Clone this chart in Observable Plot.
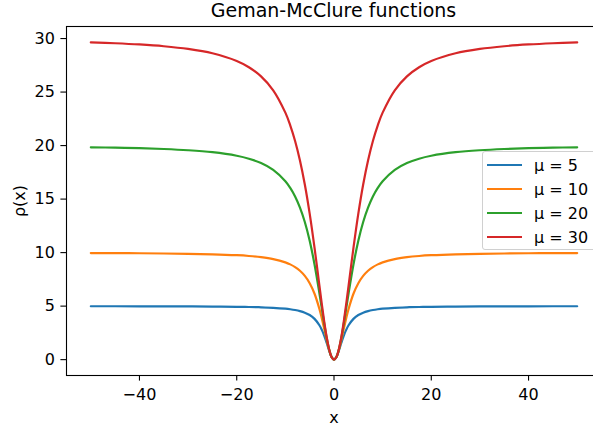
<!DOCTYPE html>
<html><head><meta charset="utf-8">
<script src="https://cdn.jsdelivr.net/npm/d3@7"></script>
<script src="https://cdn.jsdelivr.net/npm/@observablehq/plot@0.6"></script>
<style>
html,body{margin:0;padding:0;overflow:hidden;background:#fff;width:593px;height:429px;}
#wrap{position:relative;width:593px;height:429px;overflow:hidden;font-family:"DejaVu Sans",sans-serif;color:#000;}
#chart{position:absolute;left:0;top:0;width:611px;}
#chart svg{max-width:none !important;}
.lbl{position:absolute;white-space:nowrap;font-size:16px;line-height:16px;}
#title{position:absolute;left:333.5px;top:0.5px;transform:translateX(-50%);font-size:19px;line-height:19px;white-space:nowrap;}
#legend{position:absolute;left:482px;top:151px;width:130px;height:96px;padding-top:1px;box-sizing:content-box;border:1px solid #d0d0d0;border-radius:3px;background:rgba(255,255,255,0.8);}
.row{height:24px;display:flex;align-items:center;font-size:16px;}
.sw{width:35px;height:2.4px;margin-left:4px;margin-right:12px;}
</style>
</head><body>
<div id="wrap">
  <div id="chart"></div>
  <div id="title">Geman-McClure functions</div>
  <div class="lbl" id="xlab" style="left:334px;top:410px;transform:translateX(-50%);">x</div>
  <div class="lbl" id="ylab" style="left:19.5px;top:200.5px;transform:translate(-50%,-50%) rotate(-90deg);">ρ(x)</div>
  <div id="legend"></div>
</div>
<script>
const seriesLabels = ["μ = 5", "μ = 10", "μ = 20", "μ = 30"];
const seriesColors = ["#1f77b4", "#ff7f0e", "#2ca02c", "#d62728"];
const xValues = [-50,-45,-40,-35,-30,-25,-20,-17.5,-15,-12.5,-10,-9,-8,-7,-6,-5,-4,-3,-2.5,-2,-1.5,-1,-0.5,0,0.5,1,1.5,2,2.5,3,4,5,6,7,8,9,10,12.5,15,17.5,20,25,30,35,40,45,50];
const mu5 = [4.990,4.988,4.984,4.980,4.972,4.960,4.938,4.920,4.891,4.845,4.762,4.709,4.638,4.537,4.390,4.167,3.810,3.214,2.778,2.222,1.552,0.833,0.238,0,0.238,0.833,1.552,2.222,2.778,3.214,3.810,4.167,4.390,4.537,4.638,4.709,4.762,4.845,4.891,4.920,4.938,4.960,4.972,4.980,4.984,4.988,4.990];
const mu10 = [9.960,9.951,9.938,9.919,9.890,9.843,9.756,9.684,9.574,9.398,9.091,8.901,8.649,8.305,7.826,7.143,6.154,4.737,3.846,2.857,1.837,0.909,0.244,0,0.244,0.909,1.837,2.857,3.846,4.737,6.154,7.143,7.826,8.305,8.649,8.901,9.091,9.398,9.574,9.684,9.756,9.843,9.890,9.919,9.938,9.951,9.960];
const mu20 = [19.841,19.804,19.753,19.679,19.565,19.380,19.048,18.774,18.367,17.730,16.667,16.040,15.238,14.203,12.857,11.111,8.889,6.207,4.762,3.333,2.022,0.952,0.247,0,0.247,0.952,2.022,3.333,4.762,6.207,8.889,11.111,12.857,14.203,15.238,16.040,16.667,17.730,18.367,18.774,19.048,19.380,19.565,19.679,19.753,19.804,19.841];
const mu30 = [29.644,29.562,29.448,29.283,29.032,28.626,27.907,27.323,26.471,25.168,23.077,21.892,20.426,18.608,16.364,13.636,10.435,6.923,5.172,3.529,2.093,0.968,0.248,0,0.248,0.968,2.093,3.529,5.172,6.923,10.435,13.636,16.364,18.608,20.426,21.892,23.077,25.168,26.471,27.323,27.907,28.626,29.032,29.283,29.448,29.562,29.644];
const xTicks = [-40, -20, 0, 20, 40];
const yTicks = [0, 5, 10, 15, 20, 25, 30];

const allSeries = [mu5, mu10, mu20, mu30];
const data = [];
allSeries.forEach((ys, i) => {
  xValues.forEach((x, j) => data.push({x, y: ys[j], s: seriesLabels[i]}));
});

const fmt = d => (d < 0 ? "\u2212" + Math.abs(d) : String(d));

const chart = Plot.plot({
  width: 611,
  height: 429,
  marginLeft: 66,
  marginRight: 10,
  marginTop: 26,
  marginBottom: 54,
  style: {fontFamily: "DejaVu Sans", fontSize: "16px", background: "white", color: "black", maxWidth: "none"},
  x: {domain: [-55, 55]},
  y: {domain: [-1.482, 31.126]},
  color: {domain: seriesLabels, range: seriesColors},
  marks: [
    Plot.line(data, {x: "x", y: "y", stroke: "s", z: "s", curve: "catmull-rom", strokeWidth: 2.2}),
    Plot.frame({stroke: "black", strokeWidth: 1.1}),
    Plot.axisX({ticks: xTicks, tickFormat: fmt, tickSize: 5.6, tickPadding: 8, fontSize: 16, label: null, strokeWidth: 1.1}),
    Plot.axisY({ticks: yTicks, tickFormat: fmt, tickSize: 5.6, tickPadding: 6, fontSize: 16, label: null, strokeWidth: 1.1})
  ]
});
chart.style.maxWidth = "none";
document.getElementById("chart").appendChild(chart);

const legend = document.getElementById("legend");
seriesLabels.forEach((lab, i) => {
  const row = document.createElement("div");
  row.className = "row";
  const sw = document.createElement("div");
  sw.className = "sw";
  sw.style.background = seriesColors[i];
  const t = document.createElement("span");
  t.textContent = lab;
  row.appendChild(sw);
  row.appendChild(t);
  legend.appendChild(row);
});
</script>
</body></html>
